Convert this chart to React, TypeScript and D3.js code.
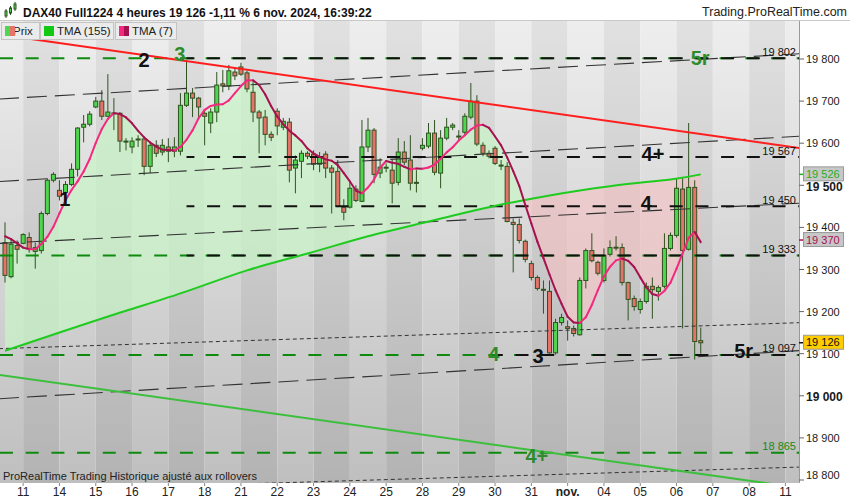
import React from 'react';
import * as d3 from 'd3';

// ---------------- DATA ----------------
// 4-hour candles, DAX40 Full1224, 10 Oct 2024 12:00 -> 6 Nov 2024 16:00
const openP = [
  19364, 19283, 19357, 19362, 19376, 19343, 19345, 19433, 19512, 19488,
  19483, 19502, 19538, 19638, 19645, 19686, 19700, 19664, 19672, 19671,
  19605, 19591, 19608, 19610, 19545, 19595, 19579, 19591, 19581, 19581,
  19690, 19719, 19707, 19671, 19648, 19674, 19741, 19736, 19769, 19781,
  19767, 19721, 19674, 19662, 19621, 19676, 19638, 19650, 19541, 19557,
  19576, 19574, 19550, 19574, 19541, 19533, 19448, 19448, 19491, 19462,
  19591, 19631, 19529, 19543, 19536, 19507, 19579, 19560, 19507, 19588,
  19593, 19624, 19529, 19612, 19638, 19617, 19626, 19662, 19700, 19595,
  19576, 19588, 19548, 19545, 19412, 19407, 19367, 19314, 19281, 19253,
  19248, 19102, 19174, 19164, 19160, 19145, 19274, 19345, 19317, 19274,
  19336, 19353, 19352, 19269, 19231, 19205, 19224, 19260, 19248, 19260,
  19350, 19381, 19491, 19348, 19495, 19131,
];
const highP = [
  19412, 19374, 19369, 19386, 19388, 19364, 19438, 19517, 19531, 19512,
  19510, 19552, 19638, 19667, 19676, 19710, 19726, 19764, 19707, 19674,
  19612, 19614, 19619, 19612, 19600, 19607, 19610, 19612, 19614, 19719,
  19798, 19731, 19710, 19679, 19683, 19769, 19774, 19786, 19781, 19791,
  19772, 19750, 19679, 19679, 19628, 19683, 19660, 19660, 19571, 19583,
  19581, 19583, 19579, 19581, 19548, 19560, 19467, 19507, 19500, 19655,
  19660, 19636, 19564, 19552, 19560, 19612, 19605, 19619, 19536, 19612,
  19648, 19655, 19631, 19660, 19648, 19631, 19671, 19743, 19714, 19602,
  19583, 19593, 19560, 19555, 19421, 19421, 19371, 19321, 19286, 19274,
  19274, 19183, 19195, 19179, 19167, 19281, 19350, 19386, 19321, 19350,
  19369, 19379, 19362, 19271, 19238, 19231, 19269, 19281, 19262, 19386,
  19388, 19517, 19517, 19648, 19512, 19162,
];
const lowP = [
  19269, 19279, 19314, 19360, 19340, 19302, 19338, 19429, 19507, 19464,
  19476, 19498, 19521, 19602, 19640, 19683, 19655, 19662, 19631, 19579,
  19583, 19576, 19591, 19524, 19529, 19567, 19571, 19555, 19567, 19571,
  19686, 19662, 19660, 19595, 19624, 19650, 19721, 19726, 19750, 19760,
  19721, 19650, 19576, 19595, 19605, 19619, 19631, 19507, 19481, 19517,
  19562, 19536, 19531, 19517, 19433, 19448, 19417, 19445, 19460, 19460,
  19579, 19505, 19517, 19531, 19457, 19500, 19548, 19488, 19483, 19583,
  19588, 19524, 19493, 19607, 19631, 19607, 19621, 19657, 19593, 19569,
  19564, 19548, 19536, 19412, 19293, 19362, 19317, 19274, 19250, 19195,
  19100, 19098, 19167, 19131, 19141, 19143, 19255, 19317, 19286, 19269,
  19331, 19345, 19262, 19179, 19202, 19195, 19219, 19183, 19226, 19255,
  19345, 19376, 19160, 19345, 19086, 19100,
];
const closeP = [
  19286, 19360, 19348, 19383, 19350, 19352, 19433, 19512, 19526, 19474,
  19502, 19538, 19636, 19645, 19669, 19700, 19664, 19674, 19670, 19605,
  19603, 19605, 19610, 19545, 19595, 19576, 19595, 19581, 19591, 19690,
  19719, 19707, 19686, 19664, 19674, 19738, 19736, 19772, 19760, 19764,
  19729, 19674, 19660, 19621, 19614, 19641, 19652, 19536, 19560, 19576,
  19569, 19550, 19567, 19541, 19531, 19450, 19436, 19493, 19464, 19591,
  19631, 19526, 19543, 19541, 19505, 19579, 19555, 19505, 19505, 19595,
  19624, 19531, 19612, 19638, 19643, 19616, 19664, 19700, 19598, 19576,
  19569, 19552, 19546, 19414, 19407, 19369, 19324, 19281, 19255, 19251,
  19102, 19174, 19186, 19160, 19148, 19274, 19345, 19321, 19291, 19333,
  19352, 19351, 19269, 19229, 19212, 19224, 19260, 19252, 19257, 19350,
  19381, 19493, 19345, 19495, 19129, 19126,
];
// TMA(7) values of the first candles (their window starts before the chart)
const tma7Lead = [19379, 19372, 19362, 19352, 19348, 19348];
// TMA(155) at these candle indexes
const tma155Idx = [0, 10, 20, 30, 40, 50, 60, 70, 80, 90, 100, 110, 115];
const tma155Val = [19107, 19155, 19202, 19248, 19298, 19338, 19379, 19414, 19448, 19476, 19498, 19514, 19526];

const priceTicks = [18800, 18900, 19000, 19100, 19200, 19300, 19400, 19500, 19600, 19700, 19800];
const boldTicks = [19000, 19500];
const dayLabels = ['11', '14', '15', '16', '17', '18', '21', '22', '23', '24', '25', '28', '29', '30', '31', 'nov.', '04', '05', '06', '07', '08', '11'];
const firstDayCandle = 3;
const candlesPerDay = 6;

// horizontal levels
const levelPrices = [19802, 19567, 19450, 19333, 19097, 18865];
const levelLabels = ['19 802', '19 567', '19 450', '19 333', '19 097', '18 865'];
const levelHasGreen = [true, false, false, true, true, true];
const levelBlackStart: (number | null)[] = [30, 30, 30, 30, 81.5, null];

// trend lines: [candle index, price] pairs
const channelLines = [
  [[-1, 19705], [132, 19813]],
  [[-1, 19509], [132, 19617]],
  [[-1, 19362], [132, 19458]],
  [[-1, 18993], [132, 19108]],
];
const dottedLines = [
  [[-1, 19112], [132, 19174]],
  [[-1, 18773], [132, 18831]],
];
const redTrend = [[4, 19848], [132, 19587]];
const greenTrend = [[-1, 19050], [132, 18780]];

// wave count labels
const waveText = ['1', '2', '3', '5r', '4+', '4', '4', '3', '5r', '4+'];
const waveIdx = [9.9, 23, 28.9, 114.9, 107.1, 106, 80.8, 88.1, 122.1, 87.9];
const wavePrice = [19467, 19798, 19812, 19802, 19574, 19457, 19100, 19095, 19107, 18857];
const waveGreen = [false, false, true, true, false, false, true, false, false, true];

const badgeValues = [19526, 19370, 19126];
const badgeText = ['19 526', '19 370', '19 126'];

// ---------------- CHART ----------------
const FONT = '"Liberation Sans", Arial, Helvetica, sans-serif';
const fmt = (v: number) => {
  const s = String(v);
  return s.slice(0, s.length - 3) + ' ' + s.slice(-3);
};

function computeTma7(closes: number[]) {
  const w = [1, 2, 3, 4, 3, 2, 1];
  return closes.map((_, i) => {
    if (i < 6) return tma7Lead[i];
    let s = 0;
    for (let k = 0; k < 7; k++) s += closes[i - 6 + k] * w[k];
    return s / 16;
  });
}

export default function App() {
  const PL = 0, PR = 799, PT = 20, PB = 483;
  const x = d3.scaleLinear().domain([0, 115]).range([5, 700.75]);
  const y = d3.scaleLinear().domain([19800, 18800]).range([59, 480]);

  const tma7 = computeTma7(closeP);
  const pinkPts: [number, number][] = tma7.map((v, i) => [x(i), y(v)]);
  const greenPts: [number, number][] = tma155Idx.map((i, k) => [x(i), y(tma155Val[k])]);
  const natural = d3.line().curve(d3.curveNatural);
  const gFwd = natural(greenPts) as string;
  const gRev = natural(greenPts.slice().reverse()) as string;
  const fillD = (d3.line()(pinkPts) as string) + gRev.replace(/^M/, 'L') + 'Z';
  const x0 = x(0), x1 = x(115);
  const clipAbove = gFwd + `L${x1},${PT}L${x0},${PT}Z`;
  const clipBelow = gFwd + `L${x1},${PB}L${x0},${PB}Z`;

  const edges = dayLabels.map((_, k) => x(firstDayCandle + candlesPerDay * k));
  const bands: { a: number; b: number; dark: boolean }[] = [{ a: PL, b: edges[0], dark: false }];
  edges.forEach((e, k) => bands.push({ a: e, b: k < edges.length - 1 ? edges[k + 1] : PR, dark: k % 2 === 0 }));

  const seg = (pts: number[][]) => ({ x1: x(pts[0][0]), y1: y(pts[0][1]), x2: x(pts[1][0]), y2: y(pts[1][1]) });
  const period = 25.7;

  const wick = '#2f5320';
  const upFill = '#4fd64f';
  const dnFill = '#e6736a';

  return (
    <div style={{ position: 'absolute', left: 0, top: 0 }}>
      <svg width={850} height={500} style={{ display: 'block', background: '#fff' }} fontFamily={FONT}>
        <defs>
          <linearGradient id="gl" gradientUnits="userSpaceOnUse" x1="0" y1={PT} x2="0" y2={PB}>
            <stop offset="0" stopColor="#eeeeee" />
            <stop offset="1" stopColor="#bfbfbf" />
          </linearGradient>
          <linearGradient id="gd" gradientUnits="userSpaceOnUse" x1="0" y1={PT} x2="0" y2={PB}>
            <stop offset="0" stopColor="#e1e1e1" />
            <stop offset="1" stopColor="#b3b3b3" />
          </linearGradient>
          <clipPath id="plot"><rect x={PL} y={PT} width={PR - PL} height={PB - PT} /></clipPath>
          <clipPath id="above"><path d={clipAbove} /></clipPath>
          <clipPath id="below"><path d={clipBelow} /></clipPath>
        </defs>

        {/* background day bands */}
        {bands.map((b, i) => (
          <rect key={i} x={b.a} y={PT} width={b.b - b.a} height={PB - PT} fill={b.dark ? 'url(#gd)' : 'url(#gl)'} />
        ))}

        <g clipPath="url(#plot)">
          {/* fills between TMA(7) and TMA(155) */}
          <g clipPath="url(#above)"><path d={fillD} fill="#c8f5c8" fillOpacity={0.7} /></g>
          <g clipPath="url(#below)"><path d={fillD} fill="#f5c0c0" fillOpacity={0.6} /></g>

          {/* candles */}
          {openP.map((o, i) => {
            const c = closeP[i];
            const up = c >= o;
            const cx = x(i);
            const yt = y(Math.max(o, c));
            const yb = y(Math.min(o, c));
            const h = Math.max(yb - yt, 1);
            return (
              <g key={i}>
                <line x1={cx} x2={cx} y1={y(highP[i])} y2={y(lowP[i])} stroke={wick} strokeWidth={1} />
                <rect x={cx - 2} y={yt} width={4} height={h} fill={up ? upFill : dnFill} stroke={wick} strokeWidth={1} />
              </g>
            );
          })}

          {/* channel lines */}
          {channelLines.map((l, i) => (
            <line key={'c' + i} {...seg(l)} stroke="#333" strokeWidth={1.1} strokeDasharray="20 8" />
          ))}
          {dottedLines.map((l, i) => (
            <line key={'d' + i} {...seg(l)} stroke="#333" strokeWidth={1} strokeDasharray="4 3" />
          ))}

          {/* horizontal levels */}
          {levelPrices.map((p, i) => {
            const yl = y(p);
            const bs = levelBlackStart[i];
            const xs = bs === null ? 0 : x(bs);
            const off = (((xs - 1.5) % period) + period) % period;
            return (
              <g key={'l' + i}>
                {levelHasGreen[i] && (
                  <line x1={PL} x2={PR} y1={yl} y2={yl} stroke="#0f8a0f" strokeWidth={2} strokeDasharray="13 12.7" />
                )}
                {bs !== null && (
                  <line x1={xs} x2={PR} y1={yl} y2={yl} stroke="#111" strokeWidth={2} strokeDasharray="13 12.7" strokeDashoffset={off} />
                )}
              </g>
            );
          })}

          {/* trend lines */}
          <line {...seg(redTrend)} stroke="#ff1e1e" strokeWidth={2} />
          <line {...seg(greenTrend)} stroke="#3cbf3c" strokeWidth={2} />

          {/* TMA 155 */}
          <path d={gFwd} fill="none" stroke="#1ecb1e" strokeWidth={2} />

          {/* TMA 7 coloured by direction */}
          {pinkPts.slice(1).map((pt, k) => {
            const prev = pinkPts[k];
            const rising = pt[1] <= prev[1];
            return (
              <line key={'t' + k} x1={prev[0]} y1={prev[1]} x2={pt[0]} y2={pt[1]}
                stroke={rising ? '#f5287f' : '#a5124f'} strokeWidth={2} strokeLinecap="round" />
            );
          })}

          {/* level labels */}
          {levelPrices.map((p, i) => (
            <text key={'ll' + i} x={796} y={y(p) - 2.5} textAnchor="end" fontSize={11}
              fill={i === levelPrices.length - 1 ? '#168a16' : '#111'}>{levelLabels[i]}</text>
          ))}

          {/* wave labels */}
          {waveText.map((t, i) => (
            <text key={'w' + i} x={x(waveIdx[i])} y={y(wavePrice[i])} textAnchor="middle" dominantBaseline="central"
              fontSize={20} fontWeight="bold" fill={waveGreen[i] ? '#2e8b2e' : '#111'}>{t}</text>
          ))}

          <text x={3} y={480} fontSize={11} fill="#222">ProRealTime Trading  Historique ajusté aux rollovers</text>
        </g>

        {/* right axis */}
        <rect x={PR + 0.5} y={PT} width={850 - PR} height={500 - PT} fill="#fff" />
        <rect x={0} y={PB} width={850} height={500 - PB} fill="#fff" />
        <line x1={PR + 0.5} x2={PR + 0.5} y1={PT} y2={PB} stroke="#999" />
        {priceTicks.map((t) => {
          const yt = y(t);
          const bold = boldTicks.includes(t);
          return (
            <g key={'pt' + t}>
              <line x1={PR} x2={PR + 5} y1={yt} y2={yt} stroke="#666" />
              <text x={806} y={Math.min(yt + (bold ? 5.5 : 4), 479)} fontSize={bold ? 12 : 11} fontWeight={bold ? 'bold' : 'normal'} fill="#1a1a1a">{fmt(t)}</text>
            </g>
          );
        })}
        {badgeValues.map((v, i) => {
          const yv = y(v);
          const colors = ['#1fae1f', '#a5124f', '#111'];
          const bgs = ['#c7c7c7', '#c7c7c7', '#ffcc00'];
          return (
            <g key={'b' + i}>
              <line x1={PR} x2={PR + 4} y1={yv} y2={yv} stroke={colors[i]} strokeWidth={1.5} />
              <rect x={803.5} y={yv - 7.5} width={40} height={14} fill={bgs[i]} stroke="#9a9a9a" />
              <text x={806} y={yv + 3.5} fontSize={11} fill={colors[i]}>{badgeText[i]}</text>
            </g>
          );
        })}

        {/* x axis */}
        {dayLabels.map((d, k) => (
          <g key={'x' + k}>
            <line x1={edges[k]} x2={edges[k]} y1={PB} y2={PB + 3} stroke="#888" />
            <text x={edges[k]} y={496} textAnchor="middle" fontSize={12} fontWeight={d === 'nov.' ? 'bold' : 'normal'} fill="#222">{d}</text>
          </g>
        ))}

        {/* header */}
        <rect x={0} y={0} width={850} height={20} fill="#fff" />
        <line x1={0} x2={850} y1={20.5} y2={20.5} stroke="#c8c8c8" />
        <g stroke="#2f5320" strokeWidth={1}>
          <line x1={6} x2={6} y1={9} y2={18} />
          <rect x={5} y={11} width={2} height={5} fill="#4fd64f" />
          <line x1={10.5} x2={10.5} y1={6} y2={15} />
          <rect x={9.5} y={8} width={2} height={5} fill="#4fd64f" />
          <line x1={15} x2={15} y1={2} y2={11} />
          <rect x={14} y={4} width={2} height={5} fill="#4fd64f" />
        </g>
        <text x={23} y={17} fontSize={12} fontWeight="bold" fill="#111">DAX40 Full1224 4 heures 19 126 -1,11 % 6 nov. 2024, 16:39:22</text>
        <text x={847} y={16} textAnchor="end" fontSize={12.5} fill="#222">Trading.ProRealTime.com</text>

        {/* legend */}
        <g fontSize={11.5} fill="#222">
          <rect x={1.5} y={22.5} width={38} height={17} fill="#ebebeb" stroke="#c4c4c4" />
          <text x={13} y={35} fill="#222">Prix</text>
          <rect x={5} y={26} width={5} height={10} fill="#4fd64f" />
          <rect x={10} y={26} width={5} height={10} fill="#e6736a" />
          <rect x={40.5} y={22.5} width={73} height={17} fill="#ebebeb" stroke="#c4c4c4" />
          <rect x={44} y={26} width={10} height={10} fill="#12c812" />
          <text x={57} y={35} fill="#222">TMA (155)</text>
          <rect x={115.5} y={22.5} width={61} height={17} fill="#ebebeb" stroke="#c4c4c4" />
          <rect x={119} y={26} width={5} height={10} fill="#f5287f" />
          <rect x={124} y={26} width={5} height={10} fill="#a5124f" />
          <text x={132} y={35} fill="#222">TMA (7)</text>
        </g>
      </svg>
    </div>
  );
}
